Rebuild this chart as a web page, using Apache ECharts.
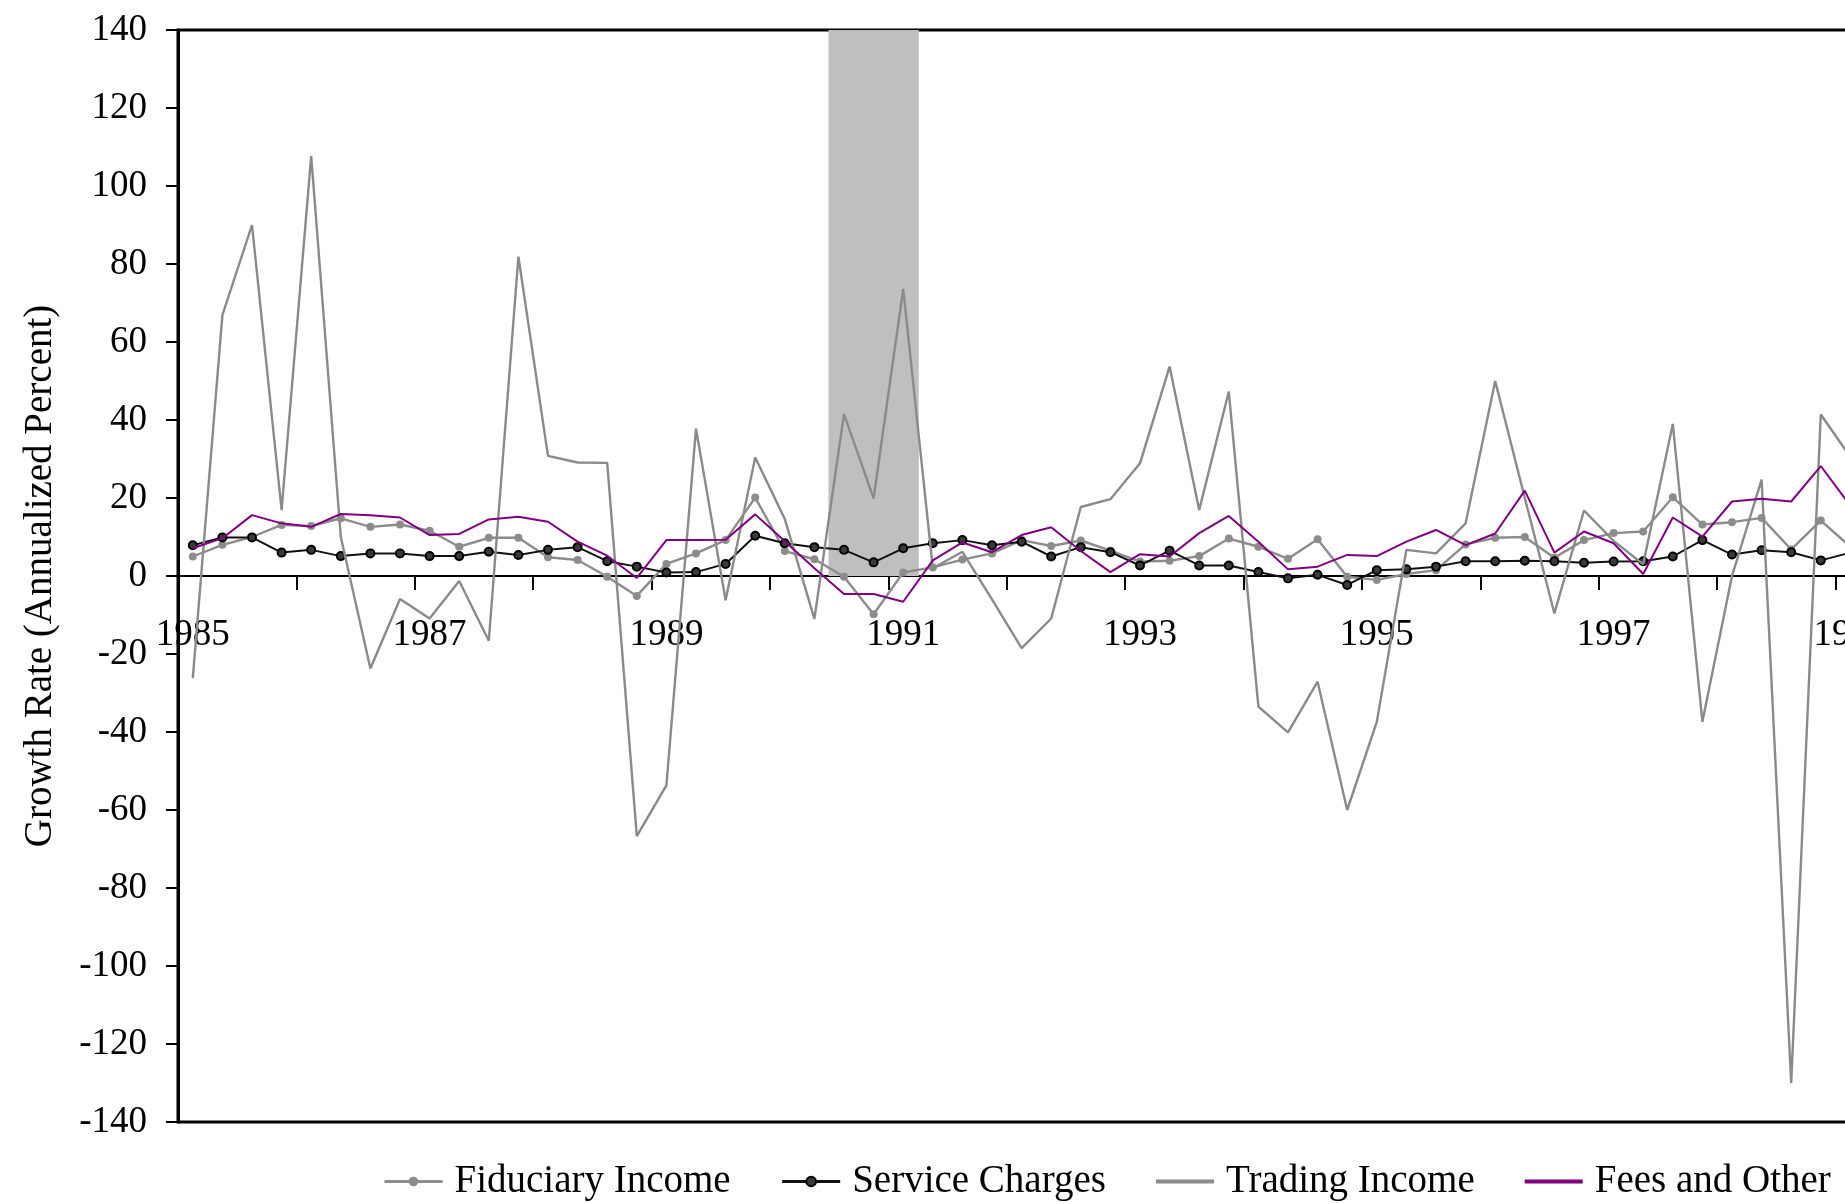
<!DOCTYPE html>
<html>
<head>
<meta charset="utf-8">
<script src="https://cdn.jsdelivr.net/npm/echarts@6/dist/echarts.min.js"></script>
<style>
  html, body { margin: 0; padding: 0; background: #fff; overflow: hidden; }
  #chart { width: 2220px; height: 1204px; }
</style>
</head>
<body>
<div id="chart"></div>
<script>
// Quarterly categories, 1985Q1 .. 1999Q4
const firstYear = 1985;
const lastYear = 1999;
const quarters = [];
for (let y = firstYear; y <= lastYear; y++) {
  for (let q = 1; q <= 4; q++) quarters.push(y + 'Q' + q);
}

// Recession quarters (shaded band)
const recessionQuarters = ['1990Q3', '1990Q4', '1991Q1'];

// Growth rates, annualized percent, starting 1985Q1
const fiduciaryIncome = [
  5.0, 8.0, 10.0, 13.1, 12.8, 14.8, 12.6, 13.2,
  11.6, 7.5, 9.8, 9.8, 4.8, 4.1, -0.2, -5.1,
  3.1, 5.8, 9.2, 20.1, 6.4, 4.3, -0.2, -9.8,
  0.9, 2.2, 4.2, 5.8, 9.2, 7.7, 9.1, 6.5,
  3.7, 3.9, 5.1, 9.6, 7.5, 4.4, 9.4, -0.2,
  -1.0, 0.5, 1.5, 8.1, 9.8, 10.0, 4.7, 9.2,
  11.0, 11.4, 20.2, 13.2, 13.8, 14.9, 6.8, 14.2,
  7.5
];

const serviceCharges = [
  7.9, 9.9, 9.9, 6.0, 6.7, 5.1, 5.8, 5.8,
  5.1, 5.1, 6.2, 5.4, 6.7, 7.4, 3.8, 2.4,
  0.9, 1.0, 3.1, 10.3, 8.4, 7.4, 6.7, 3.5,
  7.1, 8.4, 9.2, 7.9, 8.8, 5.0, 7.4, 6.1,
  2.7, 6.5, 2.7, 2.7, 1.0, -0.6, 0.3, -2.3,
  1.5, 1.7, 2.4, 3.8, 3.8, 3.9, 3.8, 3.4,
  3.7, 3.8, 5.0, 9.2, 5.5, 6.6, 6.1, 4.0,
  6.0
];

const tradingIncome = [
  -26.2, 66.9, 90.0, 16.9, 107.7, 10.0, -23.7, -5.9,
  -10.9, -1.3, -16.6, 81.9, 30.8, 29.1, 29.0, -66.7,
  -53.7, 37.8, -6.2, 30.4, 14.6, -11.0, 41.5, 19.9,
  73.6, 2.0, 6.2, -6.0, -18.5, -10.9, 17.7, 19.7,
  28.9, 53.7, 16.9, 47.3, -33.5, -40.1, -27.1, -60.0,
  -37.4, 6.7, 5.8, 13.5, 50.0, 20.0, -9.6, 16.8,
  9.0, 3.0, 39.0, -37.4, 0.0, 24.7, -130.0, 41.4,
  30.5
];

const feesAndOther = [
  7.1, 9.7, 15.6, 13.5, 12.6, 15.9, 15.6, 15.0,
  10.5, 10.8, 14.5, 15.2, 13.9, 8.8, 5.2, -0.5,
  9.2, 9.2, 9.3, 15.8, 8.9, 2.0, -4.6, -4.6,
  -6.6, 4.0, 8.6, 6.1, 10.5, 12.5, 6.4, 1.0,
  5.6, 5.0, 11.0, 15.4, 8.8, 1.7, 2.4, 5.4,
  5.1, 8.8, 11.8, 7.9, 10.9, 21.9, 6.0, 11.4,
  8.4, 0.5, 15.0, 10.1, 19.1, 19.8, 19.1, 28.2,
  18.0
];

const yMin = -140, yMax = 140, yStep = 20;

const FONT = "'Liberation Serif', 'Times New Roman', serif";
const chart = echarts.init(document.getElementById('chart'), null, { renderer: 'canvas' });

// plot geometry
const plotLeft = 178, plotTop = 30, plotHeight = 1092;
const catWidth = 29.6;
// the category axis sits on the zero line of the value axis
const zeroOffset = -plotHeight * (0 - yMin) / (yMax - yMin);

const lineIcon = 'path://M0,0H58V4H0Z';

chart.setOption({
  animation: false,
  backgroundColor: '#ffffff',
  textStyle: { fontFamily: FONT, color: '#000' },
  grid: {
    left: plotLeft,
    top: plotTop,
    width: catWidth * quarters.length,
    height: plotHeight,
    show: true,
    borderColor: '#000',
    borderWidth: 3,
    backgroundColor: 'transparent'
  },
  legend: {
    left: 378,
    top: 1157,
    itemWidth: 58,
    itemHeight: 12,
    itemGap: 50,
    lineStyle: { width: 3 },
    textStyle: { fontFamily: FONT, fontSize: 39, color: '#000', padding: [0, 0, 0, 7] },
    data: [
      { name: 'Fiduciary Income' },
      { name: 'Service Charges' },
      { name: 'Trading Income', icon: lineIcon },
      { name: 'Fees and Other', icon: lineIcon }
    ]
  },
  xAxis: {
    type: 'category',
    data: quarters,
    boundaryGap: true,
    position: 'bottom',
    offset: zeroOffset,
    axisLine: { show: true, onZero: false, lineStyle: { color: '#000', width: 2 } },
    axisTick: {
      show: true,
      alignWithLabel: false,
      inside: false,
      interval: 3,
      length: 14,
      lineStyle: { color: '#000', width: 2 }
    },
    axisLabel: {
      interval: 7,
      margin: 41,
      fontFamily: FONT,
      fontSize: 37,
      color: '#000',
      formatter: v => v.slice(0, 4)
    },
    splitLine: { show: false }
  },
  yAxis: {
    type: 'value',
    min: yMin,
    max: yMax,
    interval: yStep,
    name: 'Growth Rate (Annualized Percent)',
    nameLocation: 'middle',
    nameGap: 118,
    nameTextStyle: { fontFamily: FONT, fontSize: 39, color: '#000' },
    axisLine: { show: true, lineStyle: { color: '#000', width: 3 } },
    axisTick: { show: true, length: 12, lineStyle: { color: '#000', width: 2 } },
    axisLabel: { margin: 31, fontFamily: FONT, fontSize: 37, color: '#000' },
    splitLine: { show: false }
  },
  series: [
    {
      name: 'Recession',
      type: 'bar',
      data: quarters.map(q => recessionQuarters.includes(q) ? yMax : '-'),
      barWidth: catWidth + 1.5,
      barGap: '-100%',
      itemStyle: { color: '#bfbfbf' },
      silent: true,
      z: 1
    },
    {
      name: 'Fiduciary Income',
      type: 'line',
      data: fiduciaryIncome,
      symbol: 'circle',
      symbolSize: 8,
      showAllSymbol: true,
      lineStyle: { color: '#8c8c8c', width: 2.4 },
      itemStyle: { color: '#8c8c8c' },
      z: 3
    },
    {
      name: 'Service Charges',
      type: 'line',
      data: serviceCharges,
      symbol: 'circle',
      symbolSize: 8,
      showAllSymbol: true,
      lineStyle: { color: '#111111', width: 2 },
      itemStyle: { color: '#3a3a3a', borderColor: '#000', borderWidth: 2 },
      z: 4
    },
    {
      name: 'Trading Income',
      type: 'line',
      data: tradingIncome,
      symbol: 'none',
      lineStyle: { color: '#8a8a8a', width: 2.4 },
      itemStyle: { color: '#8a8a8a' },
      z: 5
    },
    {
      name: 'Fees and Other',
      type: 'line',
      data: feesAndOther,
      symbol: 'none',
      lineStyle: { color: '#800080', width: 2 },
      itemStyle: { color: '#800080' },
      z: 6
    }
  ]
});
</script>
</body>
</html>
